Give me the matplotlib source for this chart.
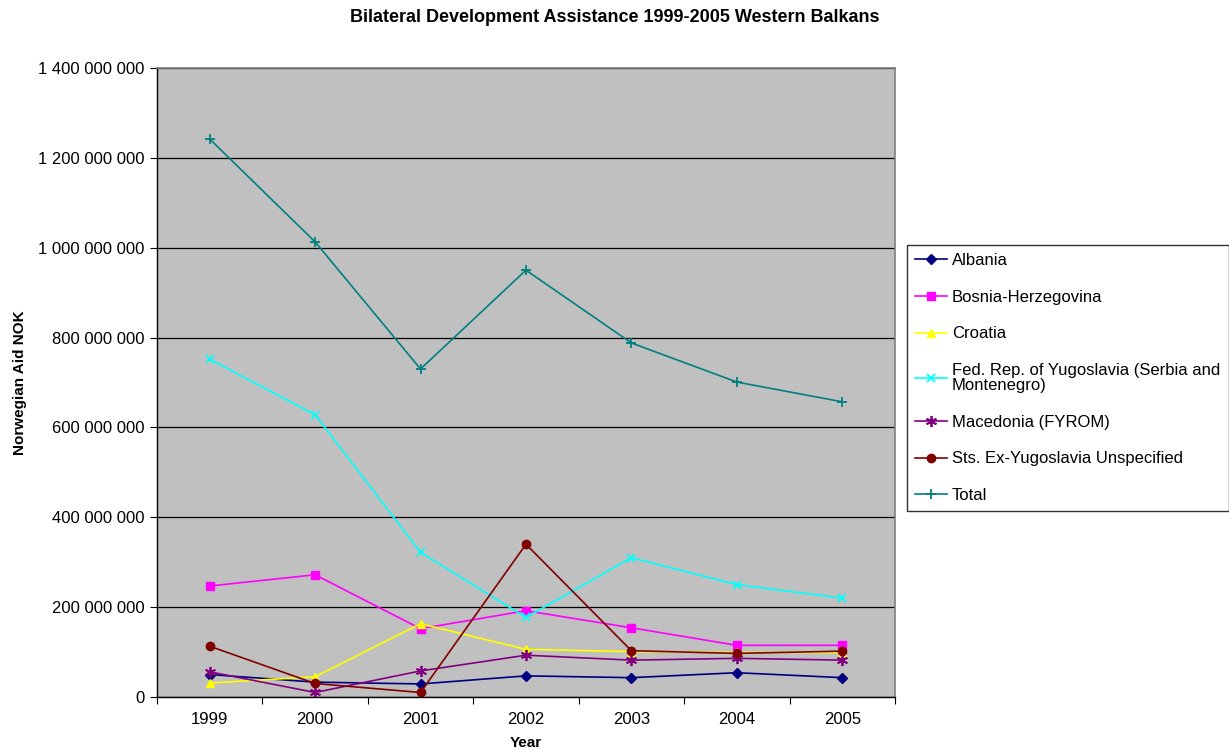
import matplotlib
matplotlib.use('Agg')
import matplotlib.pyplot as plt
from matplotlib.ticker import FuncFormatter, FixedLocator

plt.rcParams['font.family'] = ['Liberation Sans', 'DejaVu Sans']

years = ['1999', '2000', '2001', '2002', '2003', '2004', '2005']
albania = [50e6, 33e6, 29e6, 47e6, 43e6, 54e6, 43e6]
bosnia = [247e6, 272e6, 152e6, 192e6, 154e6, 115e6, 115e6]
croatia = [31e6, 45e6, 163e6, 106e6, 101e6, 99e6, 99e6]
fry = [752e6, 628e6, 322e6, 177e6, 310e6, 250e6, 220e6]
macedonia = [56e6, 10e6, 58e6, 93e6, 82e6, 86e6, 82e6]
unspecified = [113e6, 30e6, 10e6, 340e6, 103e6, 97e6, 102e6]
total = [1242e6, 1013e6, 730e6, 950e6, 788e6, 701e6, 657e6]

series = [
    ('Albania', albania, '#000080', 'D', 5),
    ('Bosnia-Herzegovina', bosnia, '#FF00FF', 's', 6),
    ('Croatia', croatia, '#FFFF00', '^', 6),
    ('Fed. Rep. of Yugoslavia (Serbia and\nMontenegro)', fry, '#00FFFF', 'x', 6),
    ('Macedonia (FYROM)', macedonia, '#800080', (6, 2, 0), 8),
    ('Sts. Ex-Yugoslavia Unspecified', unspecified, '#800000', 'o', 6),
    ('Total', total, '#008080', '+', 7),
]

fig = plt.figure(figsize=(12.29, 7.53), dpi=100)
ax = fig.add_axes([0.1277, 0.0744, 0.6005, 0.8353])
ax.set_facecolor('#C0C0C0')

x = list(range(len(years)))
for name, vals, col, mk, ms in series:
    ax.plot(x, vals, color=col, marker=mk, markersize=ms, linewidth=1.2,
            markeredgewidth=1.3 if mk in ('x', '+', (6, 2, 0)) else 1.0,
            label=name)

ax.set_xlim(-0.5, len(years) - 0.5)
ax.set_ylim(0, 1.4e9)
ax.yaxis.set_major_locator(FixedLocator([i * 200e6 for i in range(8)]))
ax.yaxis.set_major_formatter(FuncFormatter(lambda v, p: '{:,.0f}'.format(v).replace(',', ' ')))
ax.set_xticks([i - 0.5 for i in range(len(years) + 1)])
ax.set_xticklabels([])
ax.set_xticks(x, minor=True)
ax.set_xticklabels(years, minor=True)
ax.tick_params(axis='x', which='minor', length=0, labelsize=12, pad=11)
ax.tick_params(axis='x', which='major', length=5, direction='out')
ax.tick_params(axis='y', length=5, direction='out', labelsize=12, pad=4)

ax.grid(axis='y', color='black', linewidth=0.9)
ax.set_axisbelow(True)
for s in ('top', 'right'):
    ax.spines[s].set_color('#808080')
    ax.spines[s].set_linewidth(1.2)
for s in ('left', 'bottom'):
    ax.spines[s].set_color('black')
    ax.spines[s].set_linewidth(1.0)

ax.set_ylabel('Norwegian Aid NOK', fontsize=11, fontweight='bold', labelpad=8)
ax.set_xlabel('Year', fontsize=11, fontweight='bold', labelpad=6)
fig.text(0.5, 0.977, 'Bilateral Development Assistance 1999-2005 Western Balkans',
         ha='center', va='center', fontsize=13, fontweight='bold')

leg = ax.legend(loc='upper left', bbox_to_anchor=(0.738, 0.675), bbox_transform=fig.transFigure,
                fontsize=12, frameon=True, fancybox=False, edgecolor='black',
                labelspacing=1.3, handlelength=1.9, handletextpad=0.3,
                borderpad=0.5, borderaxespad=0)
leg._legend_box.sep = 0
leg.get_frame().set_linewidth(1.0)
for t in leg.get_texts():
    t.set_linespacing(1.0)

fig.savefig('out.png', dpi=100)
